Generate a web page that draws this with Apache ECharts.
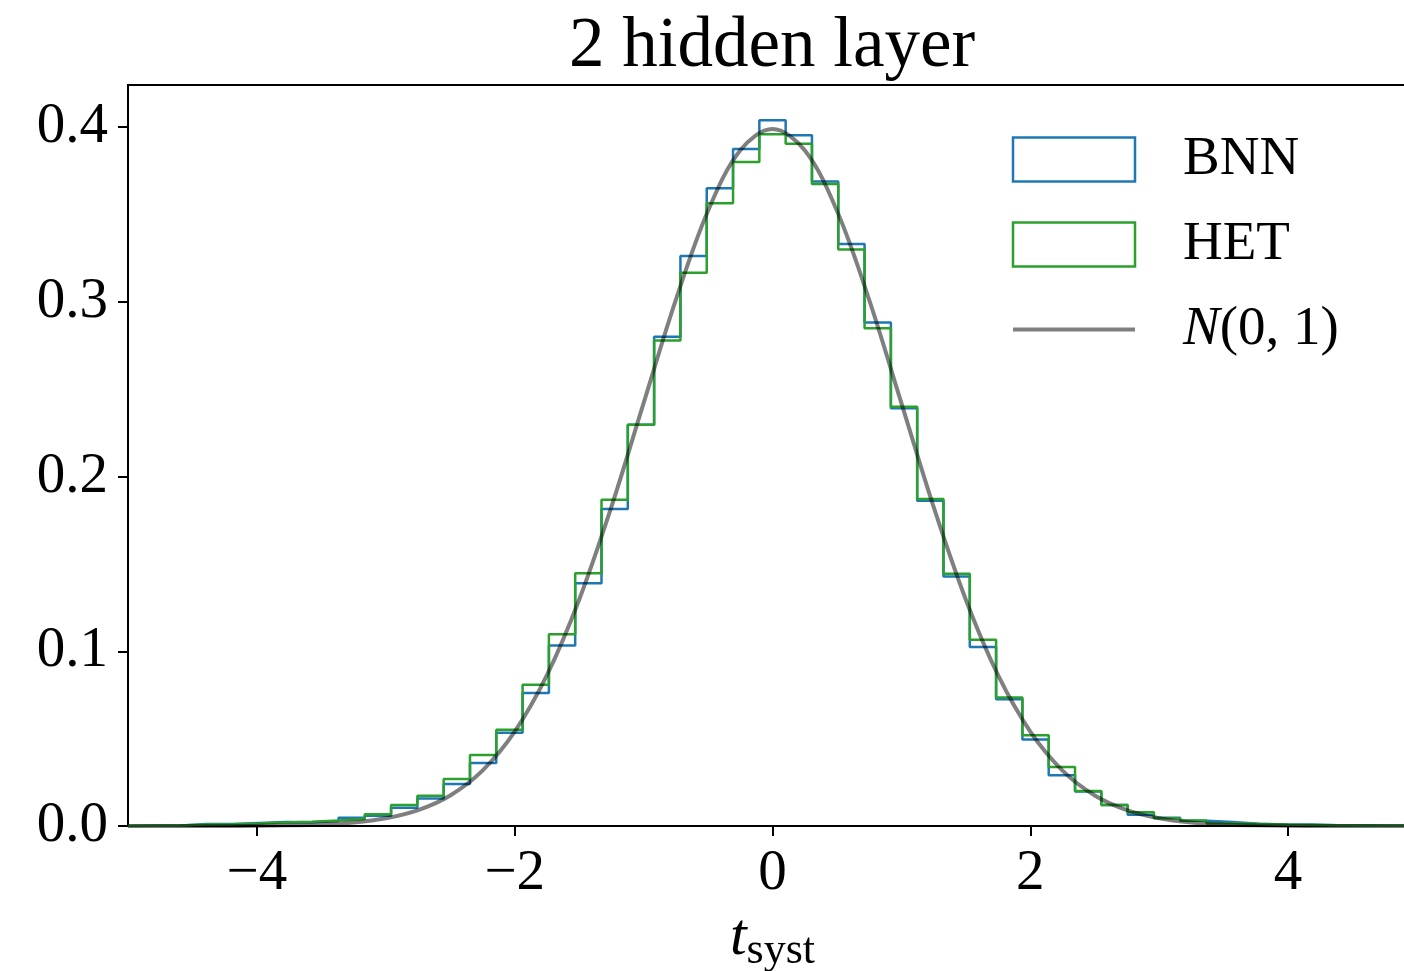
<!DOCTYPE html>
<html>
<head>
<meta charset="utf-8">
<script src="https://cdn.jsdelivr.net/npm/echarts@6/dist/echarts.min.js"></script>
<style>
  html, body { margin: 0; padding: 0; background: #fff; }
  #chart { width: 1404px; height: 971px; }
</style>
</head>
<body>
<div id="chart"></div>
<script>
// ---- data ----
const titleText = '2 hidden layer';
const binStart = -5;
const binEnd = 5;
const binCount = 49;
const bnnHeights = [
  0.0002, 0.0003, 0.0011, 0.0011, 0.0017, 0.0023, 0.0022, 0.0028, 0.0047, 0.0059,
  0.0105, 0.0158, 0.0240, 0.0360, 0.0534, 0.0761, 0.1033, 0.1390, 0.1815, 0.2296,
  0.2800, 0.3263, 0.3650, 0.3875, 0.4039, 0.3953, 0.3688, 0.3331, 0.2882, 0.2391,
  0.1861, 0.1428, 0.1024, 0.0725, 0.0495, 0.0290, 0.0198, 0.0120, 0.0065, 0.0047,
  0.0030, 0.0023, 0.0013, 0.0009, 0.0008, 0.0004, 0.0003, 0.0002, 0.0001
];
const hetHeights = [
  0.0002, 0.0003, 0.0009, 0.0010, 0.0014, 0.0020, 0.0025, 0.0031, 0.0040, 0.0067,
  0.0120, 0.0173, 0.0269, 0.0406, 0.0551, 0.0808, 0.1098, 0.1447, 0.1867, 0.2296,
  0.2778, 0.3167, 0.3564, 0.3800, 0.3959, 0.3905, 0.3674, 0.3299, 0.2849, 0.2400,
  0.1872, 0.1443, 0.1066, 0.0735, 0.0520, 0.0337, 0.0200, 0.0120, 0.0078, 0.0045,
  0.0032, 0.0015, 0.0012, 0.0008, 0.0006, 0.0004, 0.0003, 0.0002, 0.0001
];
const gaussX = [
  -5, -4.75, -4.5, -4.25, -4, -3.75, -3.5, -3.25, -3, -2.75, -2.5, -2.25, -2, -1.75,
  -1.5, -1.25, -1, -0.75, -0.5, -0.25, 0, 0.25, 0.5, 0.75, 1, 1.25, 1.5, 1.75, 2,
  2.25, 2.5, 2.75, 3, 3.25, 3.5, 3.75, 4, 4.25, 4.5, 4.75, 5
];
const gaussY = [
  0.0000, 0.0000, 0.0000, 0.0000, 0.0001, 0.0004, 0.0009, 0.0020, 0.0044, 0.0091,
  0.0175, 0.0317, 0.0540, 0.0863, 0.1295, 0.1826, 0.2420, 0.3011, 0.3521, 0.3867,
  0.3989, 0.3867, 0.3521, 0.3011, 0.2420, 0.1826, 0.1295, 0.0863, 0.0540, 0.0317,
  0.0175, 0.0091, 0.0044, 0.0020, 0.0009, 0.0004, 0.0001, 0.0000, 0.0000, 0.0000, 0.0000
];
const xTicks = [-4, -2, 0, 2, 4];
const yTicks = [0, 0.1, 0.2, 0.3, 0.4];
const xMin = -5, xMax = 5;
const yMin = 0, yMax = 0.4241;

// ---- build ----
const edges = [];
for (let k = 0; k <= binCount; k++) edges.push(binStart + (binEnd - binStart) * k / binCount);
function stepOutline(h) {
  const pts = [[edges[0], 0]];
  for (let k = 0; k < h.length; k++) {
    pts.push([edges[k], h[k]]);
    pts.push([edges[k + 1], h[k]]);
  }
  pts.push([edges[h.length], 0]);
  return pts;
}
const gaussData = gaussX.map((x, i) => [x, gaussY[i]]);

const FONT = 'Liberation Serif';
const BLUE = '#1f77b4', GREEN = '#2ca02c', GRAY = 'rgba(0,0,0,0.5)';

const chart = echarts.init(document.getElementById('chart'), null, { renderer: 'canvas' });
chart.setOption({
  animation: false,
  backgroundColor: '#ffffff',
  title: {
    text: titleText, left: 772, top: 12, textAlign: 'center', padding: 0,
    textStyle: { fontFamily: FONT, fontSize: 71, fontWeight: 'normal', color: '#000' }
  },
  grid: {
    left: 128, top: 85, width: 1289, bottom: 145,
    outerBoundsMode: 'none', containLabel: false,
    show: true, borderColor: '#000', borderWidth: 2, backgroundColor: 'transparent'
  },
  legend: {
    orient: 'vertical', left: 1011, top: 132, padding: 0,
    itemWidth: 122, itemHeight: 44, itemGap: 30,
    textStyle: { fontFamily: FONT, fontSize: 55, color: '#000', padding: [0, 0, 0, 43],
      rich: { cal: { fontFamily: FONT, fontStyle: 'italic', fontSize: 55, color: '#000' } } },
    formatter: function (name) { return name === 'N(0,1)' ? '{cal|N}(0, 1)' : name; },
    selectedMode: false,
    data: [
      { name: 'BNN', icon: 'rect', itemStyle: { color: 'rgba(255,255,255,0)', borderColor: BLUE, borderWidth: 2.5 } },
      { name: 'HET', icon: 'rect', itemStyle: { color: 'rgba(255,255,255,0)', borderColor: GREEN, borderWidth: 2.5 } },
      { name: 'N(0,1)', itemStyle: { opacity: 0 }, lineStyle: { width: 4, color: GRAY } }
    ]
  },
  xAxis: {
    type: 'value', min: xMin, max: xMax,
    name: '{t|t}{s|syst}', nameLocation: 'middle', nameGap: 72,
    nameTextStyle: {
      rich: {
        t: { fontFamily: FONT, fontStyle: 'italic', fontSize: 60, color: '#000' },
        s: { fontFamily: FONT, fontSize: 44, color: '#000', padding: [28, 0, 0, 0] }
      }
    },
    splitLine: { show: false },
    axisLine: { show: true, onZero: false, lineStyle: { color: '#000', width: 2 } },
    axisTick: { show: true, length: 10, lineStyle: { color: '#000', width: 2 }, customValues: xTicks },
    axisLabel: {
      customValues: xTicks, margin: 20, fontFamily: FONT, fontSize: 57, color: '#000',
      formatter: v => (v < 0 ? '\u2212' + Math.abs(v) : String(v))
    }
  },
  yAxis: {
    type: 'value', min: yMin, max: yMax,
    splitLine: { show: false },
    axisLine: { show: true, onZero: false, lineStyle: { color: '#000', width: 2 } },
    axisTick: { show: true, length: 10, lineStyle: { color: '#000', width: 2 }, customValues: yTicks },
    axisLabel: {
      customValues: yTicks, margin: 20, fontFamily: FONT, fontSize: 57, color: '#000',
      formatter: v => v.toFixed(1)
    }
  },
  series: [
    { name: 'BNN', type: 'line', data: stepOutline(bnnHeights), symbol: 'none',
      lineStyle: { color: BLUE, width: 2.5 }, itemStyle: { color: BLUE }, z: 2 },
    { name: 'HET', type: 'line', data: stepOutline(hetHeights), symbol: 'none',
      lineStyle: { color: GREEN, width: 2.5 }, itemStyle: { color: GREEN }, z: 3 },
    { name: 'N(0,1)', type: 'line', data: gaussData, symbol: 'none', smooth: 0.35,
      lineStyle: { color: GRAY, width: 4 }, itemStyle: { color: GRAY }, z: 4 }
  ]
});
</script>
</body>
</html>
